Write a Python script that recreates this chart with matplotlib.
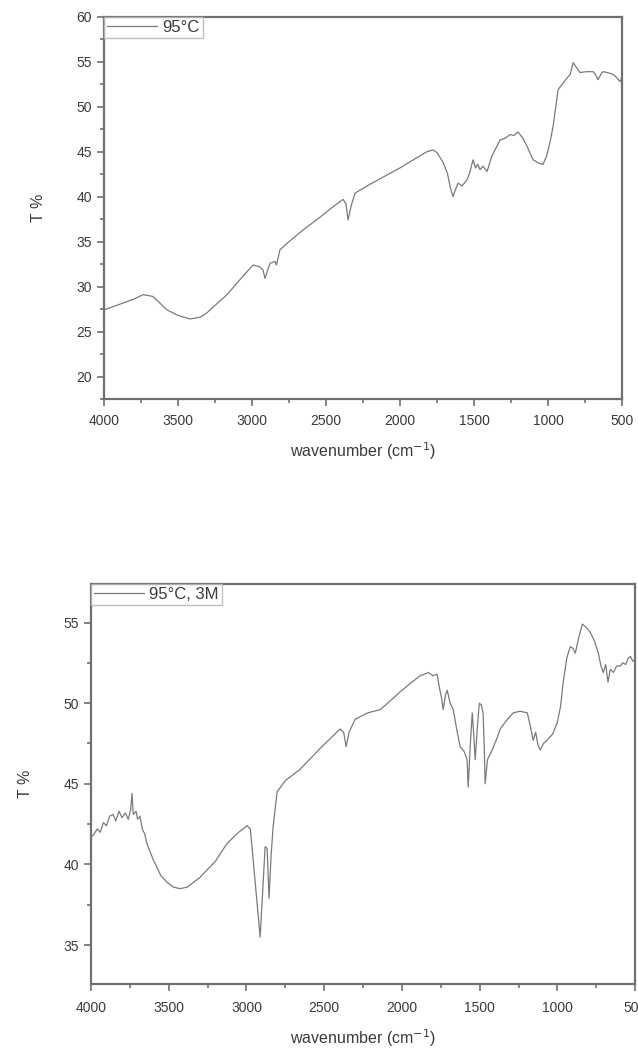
import numpy as np
from matplotlib import pyplot as plt
from matplotlib.ticker import MultipleLocator

# FTIR spectrum, 95 C
top_wn = [4000, 3900, 3800, 3736, 3700, 3669, 3574, 3500, 3419, 3350,
	3304, 3169, 3080, 2993, 2946, 2925, 2912, 2895, 2878, 2860,
	2845, 2835, 2811, 2750, 2655, 2550, 2450, 2385, 2365, 2351,
	2330, 2304, 2200, 2100, 2000, 1900, 1818, 1777, 1750, 1709,
	1680, 1660, 1642, 1625, 1608, 1580, 1547, 1530, 1507, 1490,
	1475, 1459, 1440, 1412, 1380, 1324, 1290, 1257, 1230, 1203,
	1170, 1142, 1101, 1060, 1034, 1010, 985, 966, 932, 900,
	871, 850, 831, 800, 784, 740, 696, 680, 662, 640,
	628, 600, 561, 540, 513, 500]
top_t = [27.4, 28.0, 28.6, 29.1, 29.0, 28.9, 27.4, 26.8, 26.4, 26.6,
	27.1, 29.1, 30.8, 32.4, 32.2, 31.8, 30.9, 31.8, 32.6, 32.7,
	32.8, 32.4, 34.1, 35.0, 36.3, 37.6, 38.9, 39.7, 39.2, 37.4,
	39.0, 40.4, 41.4, 42.3, 43.2, 44.2, 45.0, 45.2, 44.9, 43.8,
	42.6, 41.0, 40.0, 40.8, 41.5, 41.2, 41.9, 42.6, 44.1, 43.2,
	43.6, 43.0, 43.4, 42.8, 44.5, 46.3, 46.5, 46.9, 46.8, 47.2,
	46.5, 45.6, 44.1, 43.7, 43.6, 44.5, 46.2, 47.8, 51.9, 52.6,
	53.2, 53.6, 54.9, 54.2, 53.8, 53.9, 53.9, 53.6, 53.0, 53.7,
	53.9, 53.8, 53.6, 53.3, 52.8, 53.3]

# FTIR spectrum, 95 C, 3M
bot_wn = [4000, 3987, 3960, 3940, 3920, 3900, 3880, 3858, 3840, 3820,
	3800, 3780, 3760, 3745, 3736, 3728, 3710, 3700, 3685, 3670,
	3655, 3640, 3620, 3600, 3575, 3550, 3511, 3470, 3427, 3380,
	3299, 3200, 3125, 3050, 2996, 2975, 2957, 2935, 2912, 2895,
	2880, 2867, 2855, 2842, 2829, 2803, 2750, 2655, 2526, 2398,
	2375, 2359, 2340, 2301, 2220, 2140, 2080, 2012, 1950, 1883,
	1830, 1800, 1774, 1760, 1745, 1735, 1720, 1709, 1690, 1670,
	1650, 1626, 1600, 1581, 1574, 1560, 1548, 1538, 1529, 1515,
	1503, 1490, 1478, 1470, 1465, 1450, 1420, 1390, 1368, 1330,
	1284, 1240, 1194, 1175, 1156, 1140, 1125, 1111, 1090, 1066,
	1030, 1001, 980, 963, 940, 918, 900, 885, 865, 840,
	815, 789, 760, 737, 720, 705, 690, 675, 660, 640,
	620, 596, 580, 560, 545, 531, 515, 500]
bot_t = [41.7, 41.8, 42.2, 42.0, 42.6, 42.4, 43.0, 43.1, 42.7, 43.3,
	42.9, 43.2, 42.8, 43.4, 44.4, 43.1, 43.3, 42.8, 43.0, 42.2,
	41.9, 41.3, 40.8, 40.3, 39.8, 39.3, 38.9, 38.6, 38.5, 38.6,
	39.2, 40.2, 41.3, 42.0, 42.4, 42.2, 40.3, 38.0, 35.5, 38.5,
	41.1, 41.0, 37.9, 40.5, 42.3, 44.5, 45.2, 45.9, 47.2, 48.4,
	48.2, 47.3, 48.2, 49.0, 49.4, 49.6, 50.1, 50.7, 51.2, 51.7,
	51.9, 51.7, 51.8, 51.0, 50.3, 49.6, 50.5, 50.8, 50.0, 49.6,
	48.5, 47.3, 47.0, 46.5, 44.8, 47.5, 49.4, 48.0, 46.5, 48.5,
	50.0, 49.9, 49.4, 47.0, 45.0, 46.5, 47.1, 47.8, 48.4, 48.9,
	49.4, 49.5, 49.4, 48.6, 47.7, 48.2, 47.4, 47.1, 47.5, 47.7,
	48.1, 48.8, 49.8, 51.3, 52.8, 53.5, 53.4, 53.1, 54.0, 54.9,
	54.7, 54.4, 53.8, 53.1, 52.3, 51.9, 52.4, 51.3, 52.1, 51.9,
	52.3, 52.3, 52.5, 52.4, 52.8, 52.9, 52.6, 52.7]

plt.rcParams['font.family'] = ['Liberation Sans', 'DejaVu Sans']

FRAME = '#707070'
LINE = '#7a7a7a'
TEXT = '#3a3a3a'


def style_axes(ax, ylim, ymajor, xpad):
	ax.set_xlim(4000, 500)
	ax.set_ylim(*ylim)
	ax.xaxis.set_major_locator(MultipleLocator(500))
	ax.xaxis.set_minor_locator(MultipleLocator(250))
	ax.yaxis.set_major_locator(MultipleLocator(ymajor))
	ax.yaxis.set_minor_locator(MultipleLocator(ymajor / 2))
	for s in ax.spines.values():
		s.set_color(FRAME)
		s.set_linewidth(1.6)
	ax.tick_params(which='both', direction='out', color=FRAME, width=1.2,
		labelsize=10, labelcolor=TEXT, top=False, right=False)
	ax.tick_params(which='major', length=5)
	ax.tick_params(which='minor', length=3)
	ax.tick_params(axis='x', pad=xpad)
	ax.set_xlabel('wavenumber (cm$^{-1}$)', fontsize=11.5, color=TEXT, labelpad=9)
	ax.set_ylabel('T %', fontsize=11.5, color=TEXT, labelpad=22)


def add_legend(ax):
	leg = ax.legend(loc='upper left', fontsize=12, frameon=True, fancybox=False,
		borderaxespad=0, handlelength=3.0, handletextpad=0.3,
		borderpad=0.2, labelcolor=TEXT)
	leg.get_frame().set_edgecolor('#b0b0b0')
	leg.get_frame().set_linewidth(1.0)


fig = plt.figure(figsize=(6.38, 10.5), dpi=100)

ax1 = fig.add_axes([0.163, 0.62, 0.812, 0.364])
ax1.plot(top_wn, top_t, color=LINE, lw=0.9, label='95°C')
style_axes(ax1, (17.5, 60), 5, 6)
add_legend(ax1)

ax2 = fig.add_axes([0.1426, 0.063, 0.853, 0.381])
ax2.plot(bot_wn, bot_t, color=LINE, lw=0.9, label='95°C, 3M')
style_axes(ax2, (32.6, 57.4), 5, 7)
add_legend(ax2)

fig.savefig('out.png', dpi=100)
